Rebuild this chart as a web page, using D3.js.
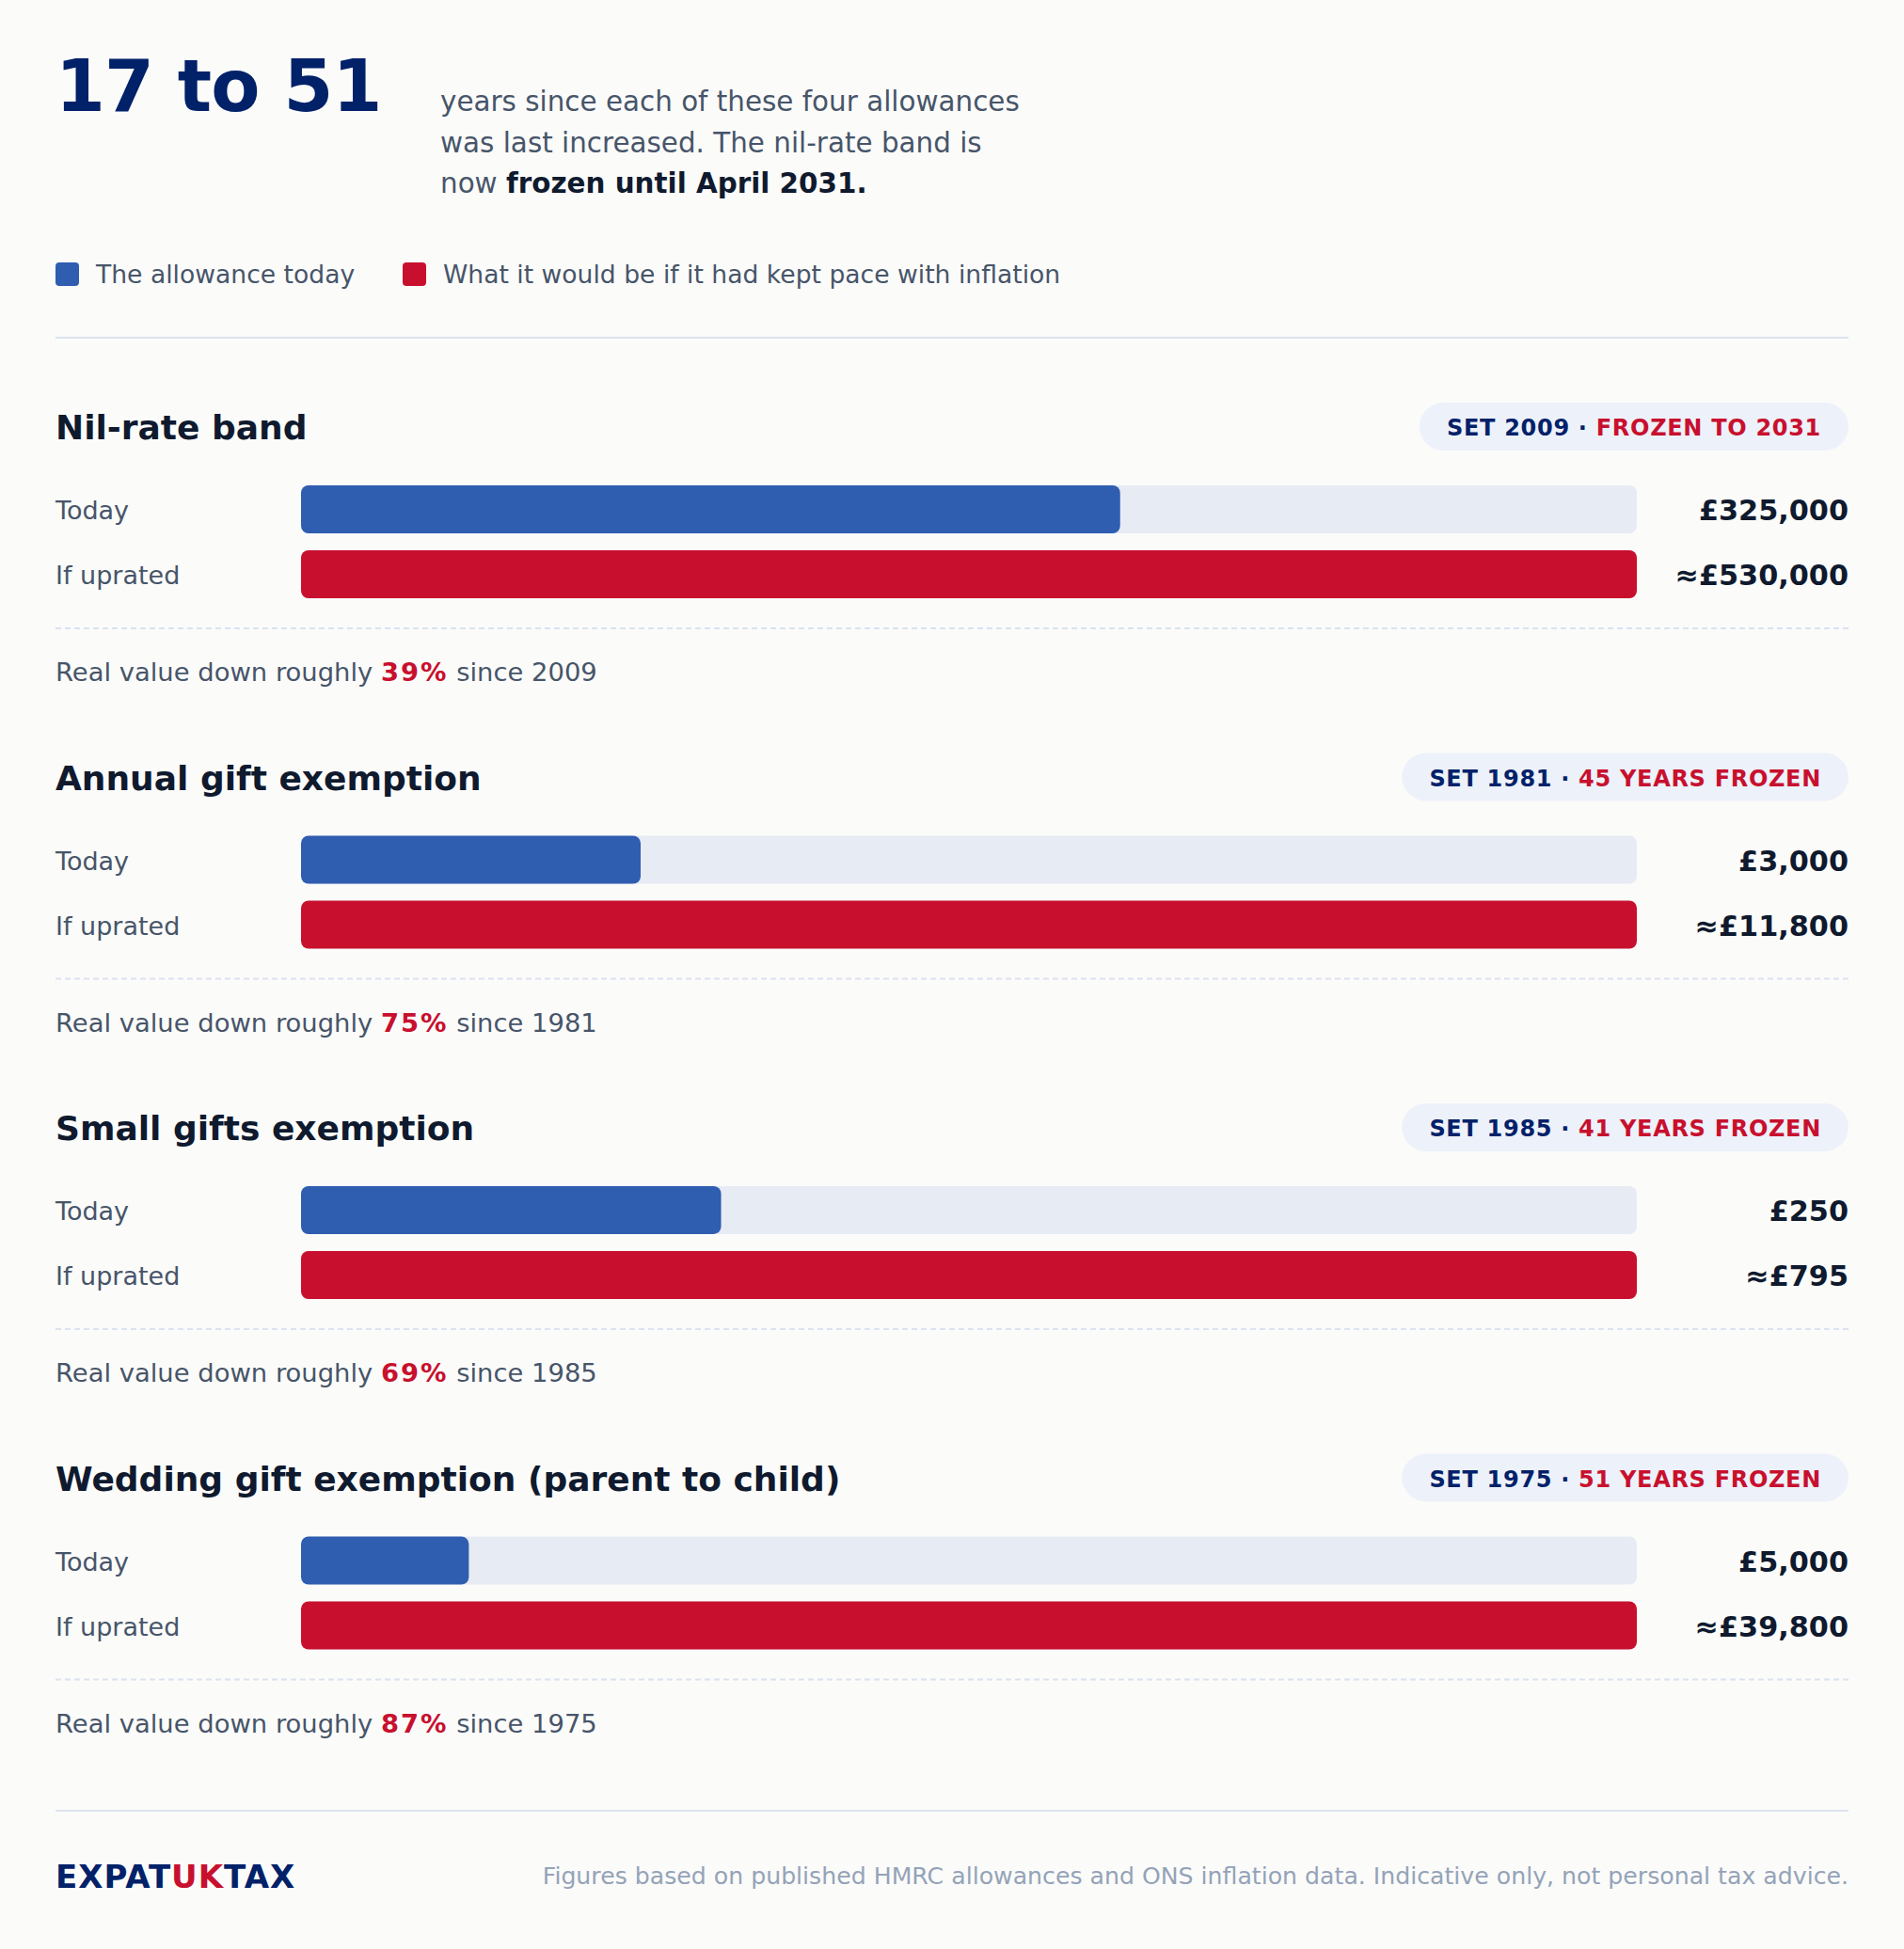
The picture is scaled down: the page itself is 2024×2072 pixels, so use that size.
<!DOCTYPE html>
<html>
<head>
<meta charset="utf-8">
<script src="https://cdn.jsdelivr.net/npm/d3@7"></script>
<style>
  html, body { margin: 0; padding: 0; background: #fbfbfa; }
  svg { display: block; font-family: "DejaVu Sans", Verdana, sans-serif; }
</style>
</head>
<body>
<div id="chart"></div>
<script>
(function () {
  // --------------------------- Data ---------------------------
  const allowances = [
    "Nil-rate band",
    "Annual gift exemption",
    "Small gifts exemption",
    "Wedding gift exemption (parent to child)"
  ];
  const todayValues = [325000, 3000, 250, 5000];
  const upratedValues = [530000, 11800, 795, 39800];
  const setYears = [2009, 1981, 1985, 1975];
  const badgeNotes = ["FROZEN TO 2031", "45 YEARS FROZEN", "41 YEARS FROZEN", "51 YEARS FROZEN"];
  const realDrops = [39, 75, 69, 87];
  const rowLabels = ["Today", "If uprated"];
  const legendLabels = ["The allowance today", "What it would be if it had kept pace with inflation"];

  // --------------------------- Layout ---------------------------
  const width = 2024;
  const height = 2072;
  const left = 59;
  const right = 1965;
  const trackX = 320;
  const trackW = 1420;
  const panelTop = 467;     // baseline of first panel title
  const panelStep = 372.5;

  const navy = "#012169";
  const red = "#c8102e";
  const blue = "#2f5db0";
  const ink = "#0f1a2e";
  const slate = "#475569";

  const svg = d3.select("#chart")
    .append("svg")
    .attr("width", width)
    .attr("height", height);

  svg.append("rect").attr("width", width).attr("height", height).attr("fill", "#fbfbfa");

  // --------------------------- Header ---------------------------
  svg.append("text")
    .attr("x", left)
    .attr("y", 118)
    .attr("font-size", 76)
    .attr("font-weight", "bold")
    .attr("letter-spacing", -0.8)
    .attr("fill", navy)
    .text("17 to 51");

  const sub = svg.append("text")
    .attr("x", 468)
    .attr("font-size", 29.4)
    .attr("fill", slate);
  sub.append("tspan").attr("x", 468).attr("y", 118).text("years since each of these four allowances");
  sub.append("tspan").attr("x", 468).attr("y", 161.5).text("was last increased. The nil-rate band is");
  const l3 = sub.append("tspan").attr("x", 468).attr("y", 205);
  l3.append("tspan").text("now ");
  l3.append("tspan").attr("font-weight", "bold").attr("fill", ink).text("frozen until April 2031.");

  // legend
  const legendX = [59, 428];
  const legendColors = [blue, red];
  const legend = svg.append("g");
  legendLabels.forEach((lab, i) => {
    legend.append("rect")
      .attr("x", legendX[i]).attr("y", 279)
      .attr("width", 25).attr("height", 25)
      .attr("rx", 4)
      .attr("fill", legendColors[i]);
    legend.append("text")
      .attr("x", legendX[i] + 43).attr("y", 301)
      .attr("font-size", 26.6)
      .attr("fill", slate)
      .text(lab);
  });

  svg.append("line")
    .attr("x1", left).attr("x2", right)
    .attr("y1", 359).attr("y2", 359)
    .attr("stroke", "#dbe3ef").attr("stroke-width", 2);

  // --------------------------- Panels ---------------------------
  const fmt = d3.format(",");

  allowances.forEach((name, i) => {
    const g = svg.append("g").attr("transform", `translate(0,${panelTop + i * panelStep})`);
    const x = d3.scaleLinear().domain([0, upratedValues[i]]).range([0, trackW]);

    g.append("text")
      .attr("x", left).attr("y", 0)
      .attr("font-size", 36)
      .attr("font-weight", "bold")
      .attr("fill", ink)
      .text(name);

    // badge
    const badge = g.append("g");
    const bt = badge.append("text")
      .attr("y", -4)
      .attr("font-size", 24)
      .attr("font-weight", "bold")
      .attr("letter-spacing", 0.7);
    bt.append("tspan").attr("fill", navy).text(`SET ${setYears[i]} · `);
    bt.append("tspan").attr("fill", red).text(badgeNotes[i]);
    const tw = bt.node().getComputedTextLength();
    const pad = 29;
    const tx = right - pad - tw;
    bt.attr("x", tx);
    badge.insert("rect", "text")
      .attr("x", tx - pad).attr("y", -39)
      .attr("width", tw + pad * 2).attr("height", 51)
      .attr("rx", 25.5)
      .attr("fill", "#edf1f9");

    // bars
    const rows = [todayValues[i], upratedValues[i]];
    const rowY = [49, 118];
    const rowColors = [blue, red];
    const valueText = [`£${fmt(todayValues[i])}`, `≈£${fmt(upratedValues[i])}`];

    rows.forEach((v, r) => {
      g.append("text")
        .attr("x", left).attr("y", rowY[r] + 36)
        .attr("font-size", 27)
        .attr("fill", slate)
        .text(rowLabels[r]);
      g.append("rect")
        .attr("x", trackX).attr("y", rowY[r])
        .attr("width", trackW).attr("height", 51)
        .attr("rx", 8)
        .attr("fill", "#e7ebf4");
      g.append("rect")
        .attr("x", trackX).attr("y", rowY[r])
        .attr("width", x(v)).attr("height", 51)
        .attr("rx", 8)
        .attr("fill", rowColors[r]);
      g.append("text")
        .attr("x", right).attr("y", rowY[r] + 37)
        .attr("text-anchor", "end")
        .attr("font-size", 30.3)
        .attr("font-weight", "bold")
        .attr("fill", ink)
        .text(valueText[r]);
    });

    g.append("line")
      .attr("x1", left).attr("x2", right)
      .attr("y1", 201).attr("y2", 201)
      .attr("stroke", "#dbe2f0").attr("stroke-width", 2)
      .attr("stroke-dasharray", "6 4");

    const note = g.append("text")
      .attr("x", left).attr("y", 257)
      .attr("font-size", 27.4)
      .attr("fill", slate);
    note.append("tspan").text("Real value down roughly ");
    note.append("tspan").attr("font-weight", "bold").attr("fill", red)
      .attr("letter-spacing", 2).text(`${realDrops[i]}%`);
    note.append("tspan").text(` since ${setYears[i]}`);
  });

  // --------------------------- Footer ---------------------------
  svg.append("line")
    .attr("x1", left).attr("x2", right)
    .attr("y1", 1925).attr("y2", 1925)
    .attr("stroke", "#dde3f0").attr("stroke-width", 2);

  const brand = svg.append("text")
    .attr("x", left).attr("y", 2007)
    .attr("font-size", 34)
    .attr("font-weight", "bold")
    .attr("letter-spacing", 1)
    .attr("fill", navy);
  brand.append("tspan").text("EXPAT");
  brand.append("tspan").attr("fill", red).text("UK");
  brand.append("tspan").text("TAX");

  svg.append("text")
    .attr("x", right).attr("y", 2003)
    .attr("text-anchor", "end")
    .attr("font-size", 25.2)
    .attr("fill", "#94a3b8")
    .text("Figures based on published HMRC allowances and ONS inflation data. Indicative only, not personal tax advice.");
})();
</script>
</body>
</html>
